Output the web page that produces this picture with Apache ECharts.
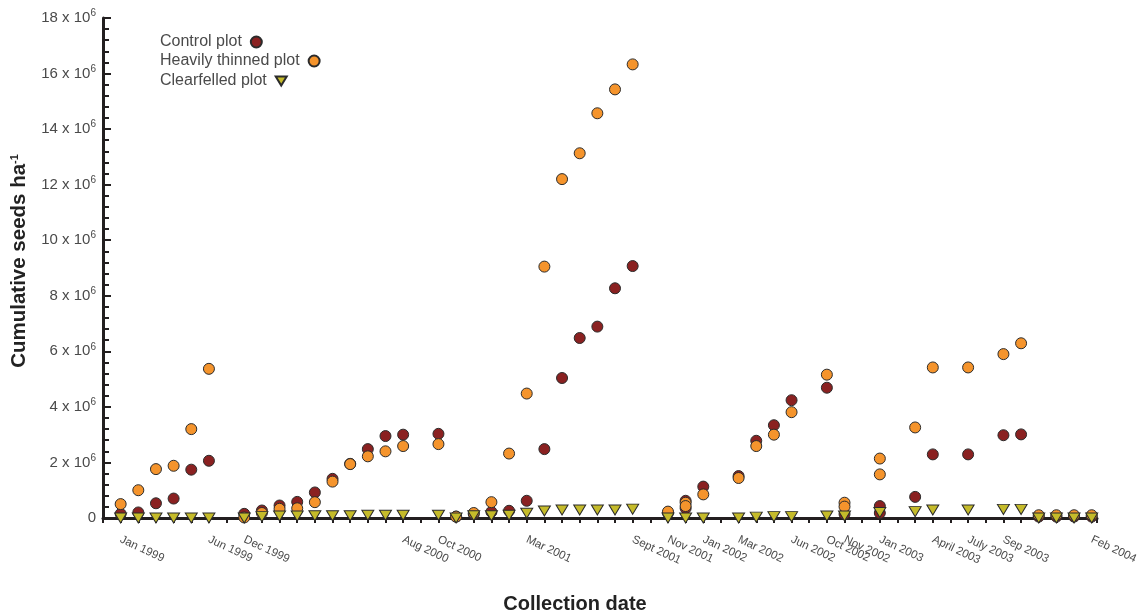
<!DOCTYPE html>
<html>
<head>
<meta charset="utf-8">
<script src="https://cdn.jsdelivr.net/npm/echarts@6/dist/echarts.min.js"></script>
<style>
  html, body { margin: 0; padding: 0; background: #fff; }
  #chart { width: 1137px; height: 613px; }
</style>
</head>
<body>
<div id="chart"></div>
<script>
// collection dates, one slot per tick, only some carry a label
var dateLabels = [
    'Jan 1999', '', '', '', '', 'Jun 1999', '', 'Dec 1999', '', '',
    '', '', '', '', '', '', 'Aug 2000', '', 'Oct 2000', '',
    '', '', '', 'Mar 2001', '', '', '', '', '', 'Sept 2001',
    '', 'Nov 2001', '', 'Jan 2002', '', 'Mar 2002', '', '', 'Jun 2002', '',
    'Oct 2002', 'Nov 2002', '', 'Jan 2003', '', '', 'April 2003', '', 'July 2003', '',
    'Sep 2003', '', '', '', '', 'Feb 2004'
];

var seriesNames = ['Control plot', 'Heavily thinned plot', 'Clearfelled plot'];

// [date slot, seeds per ha in millions]
var controlPlot = [
    [0, 0.15], [1, 0.2], [2, 0.53], [3, 0.7], [4, 1.74], [5, 2.06],
    [7, 0.15], [8, 0.27], [9, 0.45], [10, 0.58], [11, 0.92], [12, 1.41], [13, 1.95],
    [14, 2.48], [15, 2.95], [16, 3.0], [18, 3.03], [19, 0.05], [20, 0.14], [21, 0.22],
    [22, 0.26], [23, 0.62], [24, 2.48], [25, 5.04], [26, 6.48], [27, 6.89], [28, 8.27],
    [29, 9.07], [31, 0.18], [32, 0.62], [32, 0.35], [33, 1.13], [35, 1.51], [36, 2.78],
    [37, 3.34], [38, 4.24], [40, 4.69], [41, 0.14], [43, 0.43], [43, 0.18], [45, 0.76],
    [46, 2.29], [48, 2.29], [50, 2.98], [51, 3.01], [52, 0.05], [53, 0.05], [54, 0.05], [55, 0.05]
];
var thinnedPlot = [
    [0, 0.5], [1, 1.0], [2, 1.76], [3, 1.88], [4, 3.2], [5, 5.37],
    [7, 0.02], [8, 0.18], [9, 0.33], [10, 0.35], [11, 0.57], [12, 1.31], [13, 1.94],
    [14, 2.22], [15, 2.4], [16, 2.59], [18, 2.66], [19, 0.05], [20, 0.18], [21, 0.57],
    [22, 2.32], [23, 4.48], [24, 9.05], [25, 12.2], [26, 13.13], [27, 14.57], [28, 15.43],
    [29, 16.33], [31, 0.23], [32, 0.55], [32, 0.43], [33, 0.85], [35, 1.44], [36, 2.59],
    [37, 3.0], [38, 3.81], [40, 5.16], [41, 0.55], [41, 0.41], [43, 2.14], [43, 1.57],
    [45, 3.26], [46, 5.42], [48, 5.42], [50, 5.9], [51, 6.29], [52, 0.1], [53, 0.1], [54, 0.1], [55, 0.1]
];
var clearfelledPlot = [
    [0, 0], [1, 0], [2, 0], [3, 0], [4, 0], [5, 0],
    [7, 0], [8, 0.05], [9, 0.07], [10, 0.07], [11, 0.08], [12, 0.08], [13, 0.08],
    [14, 0.1], [15, 0.1], [16, 0.1], [18, 0.1], [19, 0], [20, 0.08], [21, 0.08],
    [22, 0.1], [23, 0.17], [24, 0.25], [25, 0.29], [26, 0.29], [27, 0.29], [28, 0.29],
    [29, 0.32], [31, 0], [32, 0], [33, 0], [35, 0], [36, 0.03], [37, 0.05], [38, 0.05],
    [40, 0.07], [41, 0.07], [43, 0.2], [45, 0.23], [46, 0.29], [48, 0.29], [50, 0.31],
    [51, 0.31], [52, 0], [53, 0], [54, 0], [55, 0]
];

var chart = echarts.init(document.getElementById('chart'));
var axisColor = '#231f20';
var textColor = '#4a4a4a';
var font = "'Liberation Sans', Arial, sans-serif";
var downTriangle = 'path://M0,0 L12,0 L6,10 Z';

// one legend per row so every marker sits right after its own text
function legendRow(name, top, icon) {
    var item = { name: name };
    if (icon) item.icon = icon;
    return {
        orient: 'vertical',
        left: 160,
        top: top,
        align: 'right',
        itemWidth: 11,
        itemHeight: 11,
        padding: 0,
        textStyle: { fontSize: 16, color: textColor, fontFamily: font, padding: [0, 4, 0, 0] },
        data: [item]
    };
}

var option = {
    animation: false,
    textStyle: { fontFamily: font },
    grid: { left: 103, right: 40, top: 18, bottom: 95, containLabel: false, outerBoundsMode: 'none' },
    legend: [
        legendRow(seriesNames[0], 34),
        legendRow(seriesNames[1], 53),
        legendRow(seriesNames[2], 73, downTriangle)
    ],
    xAxis: {
        type: 'value',
        min: -1,
        max: 55.3,
        interval: 1,
        name: 'Collection date',
        nameLocation: 'middle',
        nameGap: 76,
        nameTextStyle: { fontSize: 20, fontWeight: 'bold', color: '#222', padding: [0, 50, 0, 0] },
        splitLine: { show: false },
        axisLine: { onZero: false, lineStyle: { color: axisColor, width: 3 } },
        axisTick: { length: 5, lineStyle: { color: axisColor, width: 2 } },
        axisLabel: {
            rotate: -25,
            margin: 21,
            fontSize: 11.5,
            color: textColor,
            showMinLabel: true,
            showMaxLabel: true,
            formatter: function (v) {
                return dateLabels[v] || '';
            }
        }
    },
    yAxis: {
        type: 'value',
        min: 0,
        max: 18,
        interval: 2,
        name: 'Cumulative seeds ha{sup|-1}',
        nameLocation: 'middle',
        nameGap: 70,
        nameRotate: 90,
        nameTextStyle: {
            fontSize: 20.5, fontWeight: 'bold', color: '#222', padding: [0, 0, 0, 14],
            rich: {
                sup: { fontSize: 11, fontWeight: 'bold', color: '#222', padding: [0, 0, 10, 0] }
            }
        },
        splitLine: { show: false },
        axisLine: { onZero: false, lineStyle: { color: axisColor, width: 3 } },
        axisTick: { inside: true, length: 8, lineStyle: { color: axisColor, width: 2 } },
        minorTick: { show: true, splitNumber: 5, length: 6, lineStyle: { color: axisColor, width: 2 } },
        axisLabel: {
            margin: 7,
            color: textColor,
            fontSize: 15,
            formatter: function (v) {
                if (v === 0) return '0';
                return '{a|' + v + ' x 10}{s|6}';
            },
            rich: {
                a: { fontSize: 15, color: textColor },
                s: { fontSize: 10, color: textColor, padding: [0, 0, 9, 0] }
            }
        }
    },
    series: [
        {
            name: seriesNames[0],
            type: 'scatter',
            symbol: 'circle',
            symbolSize: 11,
            itemStyle: { color: '#8a2121', borderColor: '#2b2b2b', borderWidth: 1, opacity: 1 },
            data: controlPlot
        },
        {
            name: seriesNames[1],
            type: 'scatter',
            symbol: 'circle',
            symbolSize: 11,
            itemStyle: { color: '#f5942c', borderColor: '#2b2b2b', borderWidth: 1, opacity: 1 },
            data: thinnedPlot
        },
        {
            name: seriesNames[2],
            type: 'scatter',
            symbol: downTriangle,
            symbolSize: [12, 10],
            itemStyle: { color: '#c5bb2a', borderColor: '#2b2b2b', borderWidth: 1, opacity: 1 },
            data: clearfelledPlot
        }
    ]
};
chart.setOption(option);
</script>
</body>
</html>
